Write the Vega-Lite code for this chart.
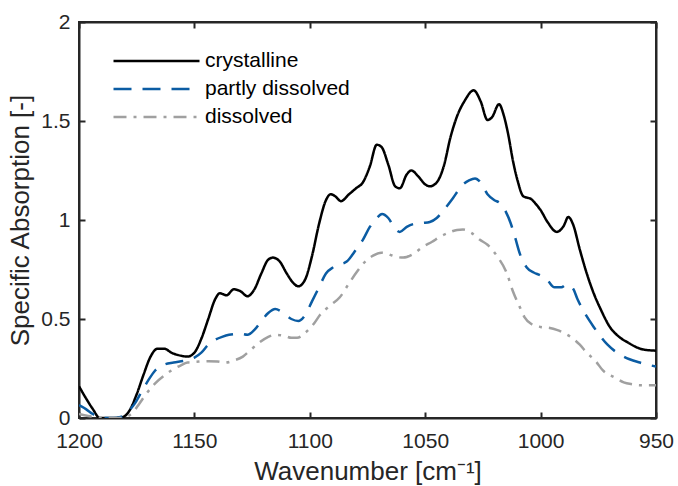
{
  "$schema": "https://vega.github.io/schema/vega-lite/v6.json",
  "width": 577,
  "height": 396,
  "autosize": {"type": "none"},
  "padding": {"left": 79, "top": 22, "right": 22, "bottom": 68},
  "background": "white",
  "config": {
    "font": "Liberation Sans",
    "view": {"stroke": "#262626", "strokeWidth": 2},
    "axis": {
      "grid": false,
      "domainColor": "#262626",
      "domainWidth": 2,
      "tickColor": "#262626",
      "tickWidth": 2,
      "tickSize": -6,
      "labelColor": "#262626",
      "labelFont": "Liberation Sans",
      "labelFontSize": 21,
      "titleColor": "#262626",
      "titleFont": "Liberation Sans",
      "titleFontSize": 26,
      "titleFontWeight": "normal"
    },
    "legend": {
      "labelFont": "Liberation Sans",
      "labelFontSize": 21,
      "labelColor": "#000000"
    }
  },
  "data": {
    "values": [
      {"w": 1200, "a": 0.16, "s": "crystalline"},
      {"w": 1197, "a": 0.10, "s": "crystalline"},
      {"w": 1194, "a": 0.045, "s": "crystalline"},
      {"w": 1191, "a": 0.0, "s": "crystalline"},
      {"w": 1188, "a": 0.0, "s": "crystalline"},
      {"w": 1185, "a": 0.0, "s": "crystalline"},
      {"w": 1181, "a": 0.005, "s": "crystalline"},
      {"w": 1178, "a": 0.04, "s": "crystalline"},
      {"w": 1175, "a": 0.12, "s": "crystalline"},
      {"w": 1172, "a": 0.22, "s": "crystalline"},
      {"w": 1169, "a": 0.31, "s": "crystalline"},
      {"w": 1166, "a": 0.35, "s": "crystalline"},
      {"w": 1163, "a": 0.35, "s": "crystalline"},
      {"w": 1160, "a": 0.33, "s": "crystalline"},
      {"w": 1156, "a": 0.315, "s": "crystalline"},
      {"w": 1153, "a": 0.31, "s": "crystalline"},
      {"w": 1150, "a": 0.33, "s": "crystalline"},
      {"w": 1147, "a": 0.40, "s": "crystalline"},
      {"w": 1144, "a": 0.50, "s": "crystalline"},
      {"w": 1141, "a": 0.60, "s": "crystalline"},
      {"w": 1139, "a": 0.63, "s": "crystalline"},
      {"w": 1136, "a": 0.62, "s": "crystalline"},
      {"w": 1133, "a": 0.65, "s": "crystalline"},
      {"w": 1130, "a": 0.64, "s": "crystalline"},
      {"w": 1127, "a": 0.615, "s": "crystalline"},
      {"w": 1124, "a": 0.65, "s": "crystalline"},
      {"w": 1121, "a": 0.73, "s": "crystalline"},
      {"w": 1118, "a": 0.80, "s": "crystalline"},
      {"w": 1116, "a": 0.81, "s": "crystalline"},
      {"w": 1113, "a": 0.79, "s": "crystalline"},
      {"w": 1110, "a": 0.73, "s": "crystalline"},
      {"w": 1107, "a": 0.68, "s": "crystalline"},
      {"w": 1105, "a": 0.665, "s": "crystalline"},
      {"w": 1102, "a": 0.70, "s": "crystalline"},
      {"w": 1099, "a": 0.82, "s": "crystalline"},
      {"w": 1096, "a": 0.98, "s": "crystalline"},
      {"w": 1093, "a": 1.10, "s": "crystalline"},
      {"w": 1091, "a": 1.13, "s": "crystalline"},
      {"w": 1089, "a": 1.12, "s": "crystalline"},
      {"w": 1086.5, "a": 1.095, "s": "crystalline"},
      {"w": 1083, "a": 1.13, "s": "crystalline"},
      {"w": 1080, "a": 1.16, "s": "crystalline"},
      {"w": 1077, "a": 1.19, "s": "crystalline"},
      {"w": 1074, "a": 1.27, "s": "crystalline"},
      {"w": 1071, "a": 1.38, "s": "crystalline"},
      {"w": 1069, "a": 1.37, "s": "crystalline"},
      {"w": 1066, "a": 1.28, "s": "crystalline"},
      {"w": 1063, "a": 1.17, "s": "crystalline"},
      {"w": 1061, "a": 1.16, "s": "crystalline"},
      {"w": 1058, "a": 1.23, "s": "crystalline"},
      {"w": 1056, "a": 1.25, "s": "crystalline"},
      {"w": 1053, "a": 1.22, "s": "crystalline"},
      {"w": 1050, "a": 1.18, "s": "crystalline"},
      {"w": 1048, "a": 1.17, "s": "crystalline"},
      {"w": 1045, "a": 1.19, "s": "crystalline"},
      {"w": 1042, "a": 1.27, "s": "crystalline"},
      {"w": 1039, "a": 1.42, "s": "crystalline"},
      {"w": 1036, "a": 1.53, "s": "crystalline"},
      {"w": 1033, "a": 1.60, "s": "crystalline"},
      {"w": 1029, "a": 1.655, "s": "crystalline"},
      {"w": 1026, "a": 1.60, "s": "crystalline"},
      {"w": 1023, "a": 1.505, "s": "crystalline"},
      {"w": 1021, "a": 1.52, "s": "crystalline"},
      {"w": 1018, "a": 1.585, "s": "crystalline"},
      {"w": 1016, "a": 1.53, "s": "crystalline"},
      {"w": 1014, "a": 1.43, "s": "crystalline"},
      {"w": 1012, "a": 1.30, "s": "crystalline"},
      {"w": 1010, "a": 1.20, "s": "crystalline"},
      {"w": 1007.5, "a": 1.12, "s": "crystalline"},
      {"w": 1004, "a": 1.105, "s": "crystalline"},
      {"w": 1002, "a": 1.08, "s": "crystalline"},
      {"w": 1000, "a": 1.05, "s": "crystalline"},
      {"w": 997, "a": 0.99, "s": "crystalline"},
      {"w": 993, "a": 0.94, "s": "crystalline"},
      {"w": 990, "a": 0.97, "s": "crystalline"},
      {"w": 988, "a": 1.015, "s": "crystalline"},
      {"w": 986, "a": 0.98, "s": "crystalline"},
      {"w": 983, "a": 0.85, "s": "crystalline"},
      {"w": 980, "a": 0.73, "s": "crystalline"},
      {"w": 977, "a": 0.63, "s": "crystalline"},
      {"w": 974, "a": 0.55, "s": "crystalline"},
      {"w": 970, "a": 0.46, "s": "crystalline"},
      {"w": 966, "a": 0.41, "s": "crystalline"},
      {"w": 962, "a": 0.38, "s": "crystalline"},
      {"w": 958, "a": 0.355, "s": "crystalline"},
      {"w": 955, "a": 0.345, "s": "crystalline"},
      {"w": 950, "a": 0.34, "s": "crystalline"},

      {"w": 1200, "a": 0.065, "s": "partly dissolved"},
      {"w": 1197, "a": 0.045, "s": "partly dissolved"},
      {"w": 1194, "a": 0.02, "s": "partly dissolved"},
      {"w": 1191, "a": 0.003, "s": "partly dissolved"},
      {"w": 1188, "a": 0.0, "s": "partly dissolved"},
      {"w": 1185, "a": 0.0, "s": "partly dissolved"},
      {"w": 1182, "a": 0.005, "s": "partly dissolved"},
      {"w": 1179, "a": 0.03, "s": "partly dissolved"},
      {"w": 1176, "a": 0.07, "s": "partly dissolved"},
      {"w": 1173, "a": 0.13, "s": "partly dissolved"},
      {"w": 1170, "a": 0.19, "s": "partly dissolved"},
      {"w": 1167, "a": 0.24, "s": "partly dissolved"},
      {"w": 1163, "a": 0.27, "s": "partly dissolved"},
      {"w": 1159, "a": 0.28, "s": "partly dissolved"},
      {"w": 1154, "a": 0.29, "s": "partly dissolved"},
      {"w": 1150, "a": 0.305, "s": "partly dissolved"},
      {"w": 1147, "a": 0.33, "s": "partly dissolved"},
      {"w": 1144, "a": 0.37, "s": "partly dissolved"},
      {"w": 1141, "a": 0.395, "s": "partly dissolved"},
      {"w": 1138, "a": 0.41, "s": "partly dissolved"},
      {"w": 1135, "a": 0.42, "s": "partly dissolved"},
      {"w": 1130, "a": 0.425, "s": "partly dissolved"},
      {"w": 1127, "a": 0.42, "s": "partly dissolved"},
      {"w": 1124, "a": 0.445, "s": "partly dissolved"},
      {"w": 1121, "a": 0.49, "s": "partly dissolved"},
      {"w": 1118, "a": 0.53, "s": "partly dissolved"},
      {"w": 1115, "a": 0.55, "s": "partly dissolved"},
      {"w": 1112, "a": 0.535, "s": "partly dissolved"},
      {"w": 1108, "a": 0.50, "s": "partly dissolved"},
      {"w": 1105, "a": 0.49, "s": "partly dissolved"},
      {"w": 1102, "a": 0.52, "s": "partly dissolved"},
      {"w": 1099, "a": 0.59, "s": "partly dissolved"},
      {"w": 1096, "a": 0.66, "s": "partly dissolved"},
      {"w": 1093, "a": 0.73, "s": "partly dissolved"},
      {"w": 1090, "a": 0.76, "s": "partly dissolved"},
      {"w": 1087, "a": 0.775, "s": "partly dissolved"},
      {"w": 1084, "a": 0.79, "s": "partly dissolved"},
      {"w": 1080, "a": 0.85, "s": "partly dissolved"},
      {"w": 1077, "a": 0.90, "s": "partly dissolved"},
      {"w": 1074, "a": 0.965, "s": "partly dissolved"},
      {"w": 1071, "a": 1.01, "s": "partly dissolved"},
      {"w": 1068.7, "a": 1.03, "s": "partly dissolved"},
      {"w": 1066, "a": 1.01, "s": "partly dissolved"},
      {"w": 1063, "a": 0.955, "s": "partly dissolved"},
      {"w": 1061, "a": 0.94, "s": "partly dissolved"},
      {"w": 1058, "a": 0.965, "s": "partly dissolved"},
      {"w": 1055, "a": 0.98, "s": "partly dissolved"},
      {"w": 1051, "a": 0.985, "s": "partly dissolved"},
      {"w": 1048, "a": 0.99, "s": "partly dissolved"},
      {"w": 1045, "a": 1.01, "s": "partly dissolved"},
      {"w": 1042, "a": 1.05, "s": "partly dissolved"},
      {"w": 1038, "a": 1.11, "s": "partly dissolved"},
      {"w": 1034, "a": 1.175, "s": "partly dissolved"},
      {"w": 1031, "a": 1.20, "s": "partly dissolved"},
      {"w": 1028.4, "a": 1.21, "s": "partly dissolved"},
      {"w": 1026, "a": 1.19, "s": "partly dissolved"},
      {"w": 1023, "a": 1.13, "s": "partly dissolved"},
      {"w": 1020, "a": 1.10, "s": "partly dissolved"},
      {"w": 1017.6, "a": 1.085, "s": "partly dissolved"},
      {"w": 1015, "a": 1.04, "s": "partly dissolved"},
      {"w": 1013, "a": 0.985, "s": "partly dissolved"},
      {"w": 1011, "a": 0.91, "s": "partly dissolved"},
      {"w": 1009, "a": 0.83, "s": "partly dissolved"},
      {"w": 1006, "a": 0.76, "s": "partly dissolved"},
      {"w": 1003, "a": 0.735, "s": "partly dissolved"},
      {"w": 1000, "a": 0.72, "s": "partly dissolved"},
      {"w": 997, "a": 0.695, "s": "partly dissolved"},
      {"w": 994, "a": 0.66, "s": "partly dissolved"},
      {"w": 991, "a": 0.66, "s": "partly dissolved"},
      {"w": 988.6, "a": 0.675, "s": "partly dissolved"},
      {"w": 986, "a": 0.655, "s": "partly dissolved"},
      {"w": 984, "a": 0.60, "s": "partly dissolved"},
      {"w": 981.6, "a": 0.545, "s": "partly dissolved"},
      {"w": 977, "a": 0.46, "s": "partly dissolved"},
      {"w": 971, "a": 0.37, "s": "partly dissolved"},
      {"w": 964, "a": 0.31, "s": "partly dissolved"},
      {"w": 957, "a": 0.28, "s": "partly dissolved"},
      {"w": 950, "a": 0.26, "s": "partly dissolved"},

      {"w": 1200, "a": 0.02, "s": "dissolved"},
      {"w": 1196, "a": 0.01, "s": "dissolved"},
      {"w": 1192, "a": 0.003, "s": "dissolved"},
      {"w": 1188, "a": 0.0, "s": "dissolved"},
      {"w": 1184, "a": 0.0, "s": "dissolved"},
      {"w": 1180, "a": 0.005, "s": "dissolved"},
      {"w": 1177, "a": 0.025, "s": "dissolved"},
      {"w": 1174, "a": 0.07, "s": "dissolved"},
      {"w": 1171, "a": 0.12, "s": "dissolved"},
      {"w": 1167, "a": 0.175, "s": "dissolved"},
      {"w": 1163, "a": 0.215, "s": "dissolved"},
      {"w": 1160, "a": 0.24, "s": "dissolved"},
      {"w": 1156, "a": 0.265, "s": "dissolved"},
      {"w": 1153, "a": 0.28, "s": "dissolved"},
      {"w": 1148, "a": 0.285, "s": "dissolved"},
      {"w": 1144, "a": 0.287, "s": "dissolved"},
      {"w": 1140, "a": 0.285, "s": "dissolved"},
      {"w": 1136.7, "a": 0.28, "s": "dissolved"},
      {"w": 1133, "a": 0.29, "s": "dissolved"},
      {"w": 1129, "a": 0.31, "s": "dissolved"},
      {"w": 1126, "a": 0.34, "s": "dissolved"},
      {"w": 1122, "a": 0.38, "s": "dissolved"},
      {"w": 1118, "a": 0.41, "s": "dissolved"},
      {"w": 1115, "a": 0.42, "s": "dissolved"},
      {"w": 1111, "a": 0.415, "s": "dissolved"},
      {"w": 1108, "a": 0.405, "s": "dissolved"},
      {"w": 1105.5, "a": 0.405, "s": "dissolved"},
      {"w": 1102, "a": 0.43, "s": "dissolved"},
      {"w": 1098, "a": 0.48, "s": "dissolved"},
      {"w": 1095.6, "a": 0.52, "s": "dissolved"},
      {"w": 1091, "a": 0.57, "s": "dissolved"},
      {"w": 1087, "a": 0.61, "s": "dissolved"},
      {"w": 1083, "a": 0.68, "s": "dissolved"},
      {"w": 1079.5, "a": 0.74, "s": "dissolved"},
      {"w": 1076, "a": 0.79, "s": "dissolved"},
      {"w": 1072.6, "a": 0.82, "s": "dissolved"},
      {"w": 1069, "a": 0.835, "s": "dissolved"},
      {"w": 1066.6, "a": 0.83, "s": "dissolved"},
      {"w": 1063, "a": 0.815, "s": "dissolved"},
      {"w": 1059.6, "a": 0.81, "s": "dissolved"},
      {"w": 1055, "a": 0.83, "s": "dissolved"},
      {"w": 1051, "a": 0.865, "s": "dissolved"},
      {"w": 1047, "a": 0.89, "s": "dissolved"},
      {"w": 1043.6, "a": 0.915, "s": "dissolved"},
      {"w": 1040, "a": 0.935, "s": "dissolved"},
      {"w": 1036.2, "a": 0.95, "s": "dissolved"},
      {"w": 1033.6, "a": 0.952, "s": "dissolved"},
      {"w": 1030, "a": 0.935, "s": "dissolved"},
      {"w": 1026.3, "a": 0.90, "s": "dissolved"},
      {"w": 1023, "a": 0.875, "s": "dissolved"},
      {"w": 1019, "a": 0.82, "s": "dissolved"},
      {"w": 1014.6, "a": 0.73, "s": "dissolved"},
      {"w": 1012, "a": 0.64, "s": "dissolved"},
      {"w": 1009, "a": 0.56, "s": "dissolved"},
      {"w": 1007, "a": 0.51, "s": "dissolved"},
      {"w": 1004, "a": 0.475, "s": "dissolved"},
      {"w": 1000, "a": 0.46, "s": "dissolved"},
      {"w": 996, "a": 0.455, "s": "dissolved"},
      {"w": 993, "a": 0.445, "s": "dissolved"},
      {"w": 990, "a": 0.43, "s": "dissolved"},
      {"w": 987, "a": 0.41, "s": "dissolved"},
      {"w": 983, "a": 0.37, "s": "dissolved"},
      {"w": 980, "a": 0.33, "s": "dissolved"},
      {"w": 976, "a": 0.285, "s": "dissolved"},
      {"w": 973, "a": 0.24, "s": "dissolved"},
      {"w": 968, "a": 0.205, "s": "dissolved"},
      {"w": 964, "a": 0.18, "s": "dissolved"},
      {"w": 960, "a": 0.17, "s": "dissolved"},
      {"w": 957, "a": 0.165, "s": "dissolved"},
      {"w": 950, "a": 0.165, "s": "dissolved"}
    ]
  },
  "layer": [
    {
      "mark": {"type": "line", "strokeWidth": 2.5, "interpolate": "monotone", "clip": true},
      "encoding": {
        "x": {
          "field": "w", "type": "quantitative",
          "scale": {"domain": [950, 1200], "reverse": true, "nice": false, "zero": false},
          "axis": {
            "orient": "bottom",
            "values": [1200, 1150, 1100, 1050, 1000, 950],
            "format": "d",
            "labelPadding": 18,
            "labelFlush": false,
            "title": "Wavenumber [cm⁻¹]",
            "titlePadding": 7
          }
        },
        "y": {
          "field": "a", "type": "quantitative",
          "scale": {"domain": [0, 2], "nice": false},
          "axis": {
            "orient": "left",
            "values": [0, 0.5, 1, 1.5, 2],
            "format": "~g",
            "labelPadding": 15,
            "labelFlush": false,
            "title": "Specific Absorption [-]",
            "titlePadding": 7
          }
        },
        "color": {
          "field": "s", "type": "nominal",
          "scale": {
            "domain": ["crystalline", "partly dissolved", "dissolved"],
            "range": ["#000000", "#0b5ca3", "#a0a0a0"]
          },
          "legend": {
            "title": null,
            "orient": "none",
            "legendX": 33,
            "legendY": 27,
            "symbolType": "stroke",
            "symbolSize": 7396,
            "symbolStrokeWidth": 2.5,
            "clipHeight": 24,
            "labelOffset": 4,
            "rowPadding": 4,
            "padding": 0
          }
        },
        "strokeDash": {
          "field": "s", "type": "nominal",
          "scale": {
            "domain": ["crystalline", "partly dissolved", "dissolved"],
            "range": [[1, 0], [18, 11], [13, 7, 3, 7]]
          },
          "legend": {
            "title": null,
            "orient": "none",
            "legendX": 33,
            "legendY": 27,
            "symbolType": "stroke",
            "symbolSize": 7396,
            "symbolStrokeWidth": 2.5,
            "clipHeight": 24,
            "labelOffset": 4,
            "rowPadding": 4,
            "padding": 0
          }
        },
        "order": {"field": "w", "type": "quantitative", "sort": "descending"}
      }
    },
    {
      "mark": {"type": "line", "opacity": 0},
      "encoding": {
        "x": {
          "field": "w", "type": "quantitative",
          "axis": {"orient": "top", "values": [1200, 1150, 1100, 1050, 1000, 950], "labels": false, "title": null}
        },
        "y": {
          "field": "a", "type": "quantitative",
          "axis": {"orient": "right", "values": [0, 0.5, 1, 1.5, 2], "labels": false, "title": null}
        },
        "detail": {"field": "s", "type": "nominal"}
      }
    }
  ],
  "resolve": {"axis": {"x": "independent", "y": "independent"}}
}
